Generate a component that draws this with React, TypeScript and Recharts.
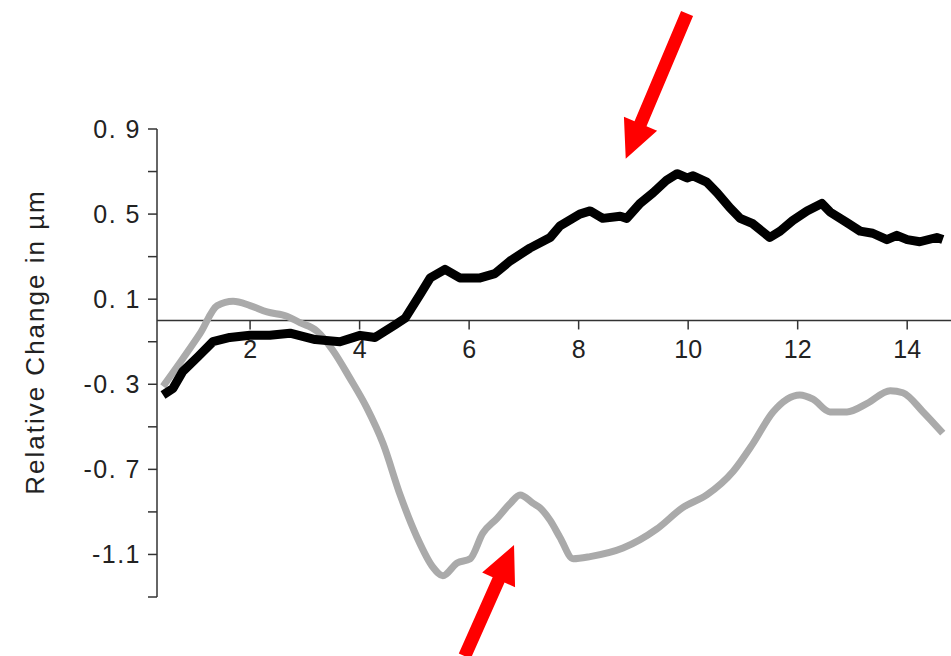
import { ComposedChart, Line, XAxis, YAxis, ReferenceLine, ReferenceDot, Label } from "recharts";

const FONT = "'Liberation Sans', Arial, sans-serif";

const xTicks = [2, 4, 6, 8, 10, 12, 14];
const yTicks = [-1.3, -1.1, -0.9, -0.7, -0.5, -0.3, -0.1, 0.1, 0.3, 0.5, 0.7, 0.9];
const yTickLabels: Record<string, string> = {
  "0.9": "0. 9",
  "0.5": "0. 5",
  "0.1": "0. 1",
  "-0.3": "-0. 3",
  "-0.7": "-0. 7",
  "-1.1": "-1.1",
};

// black trace (x, relative change)
const blackCurve: [number, number][] = [
  [0.41, -0.35], [0.59, -0.32], [0.77, -0.24], [1.05, -0.17], [1.32, -0.1], [1.63, -0.08],
  [2.0, -0.07], [2.36, -0.07], [2.73, -0.06], [3.19, -0.09], [3.64, -0.1], [4.01, -0.07],
  [4.28, -0.08], [4.65, -0.02], [4.83, 0.01], [5.1, 0.12], [5.29, 0.2], [5.56, 0.24],
  [5.83, 0.2], [6.2, 0.2], [6.47, 0.22], [6.75, 0.28], [7.11, 0.34], [7.48, 0.39],
  [7.66, 0.445], [8.02, 0.5], [8.21, 0.515], [8.44, 0.48], [8.76, 0.49], [8.88, 0.48],
  [9.12, 0.55], [9.36, 0.6], [9.61, 0.66], [9.8, 0.69], [9.98, 0.67], [10.09, 0.68],
  [10.34, 0.65], [10.53, 0.6], [10.76, 0.53], [10.95, 0.48], [11.18, 0.455], [11.49, 0.39],
  [11.68, 0.42], [11.91, 0.47], [12.17, 0.515], [12.44, 0.55], [12.59, 0.51], [12.9, 0.46],
  [13.14, 0.42], [13.37, 0.41], [13.63, 0.38], [13.81, 0.4], [14.0, 0.38], [14.23, 0.37],
  [14.54, 0.39], [14.65, 0.38],
];

// gray trace
const grayCurve: [number, number][] = [
  [0.41, -0.31], [0.77, -0.18], [1.09, -0.06], [1.4, 0.07], [1.69, 0.09], [2.0, 0.07],
  [2.31, 0.04], [2.67, 0.02], [2.91, -0.01], [3.22, -0.05], [3.51, -0.14], [3.82, -0.27],
  [4.13, -0.41], [4.43, -0.58], [4.74, -0.82], [5.05, -1.02], [5.34, -1.16], [5.52, -1.2],
  [5.78, -1.14], [6.02, -1.12], [6.25, -1.0], [6.51, -0.93], [6.75, -0.86], [6.93, -0.82],
  [7.17, -0.86], [7.29, -0.88], [7.48, -0.94], [7.66, -1.02], [7.9, -1.12], [8.21, -1.11],
  [8.81, -1.07], [9.43, -0.98], [9.9, -0.88], [10.34, -0.82], [10.82, -0.71], [11.18, -0.58],
  [11.55, -0.43], [12.04, -0.35], [12.28, -0.37], [12.59, -0.43], [12.9, -0.43], [13.27, -0.39],
  [13.69, -0.33], [13.92, -0.34], [14.29, -0.43], [14.65, -0.53],
];

// red annotation arrows: tail -> tip, in data units
const arrows = [
  { from: [9.98, 1.443], to: [8.86, 0.76] },
  { from: [5.92, -1.578], to: [6.82, -1.056] },
];

const toRows = (pts: [number, number][]) => pts.map(([x, y]) => ({ x, y }));

function ArrowShape(props: any) {
  const { x1, y1, x2, y2 } = props;
  const dx = x2 - x1;
  const dy = y2 - y1;
  const len = Math.hypot(dx, dy) || 1;
  const ux = dx / len, uy = dy / len;
  const nx = -uy, ny = ux;
  const head = 38, half = 18, shaft = 6.5;
  const bx = x2 - ux * head, by = y2 - uy * head;
  const pts = [
    [x1 + nx * shaft, y1 + ny * shaft],
    [bx + nx * shaft, by + ny * shaft],
    [bx + nx * half, by + ny * half],
    [x2, y2],
    [bx - nx * half, by - ny * half],
    [bx - nx * shaft, by - ny * shaft],
    [x1 - nx * shaft, y1 - ny * shaft],
  ];
  return <polygon points={pts.map((p) => p.join(",")).join(" ")} fill="#ff0000" />;
}

function XTickMark(props: any) {
  const { cx, cy, value } = props;
  return (
    <g>
      <line x1={cx} y1={cy} x2={cx} y2={cy + 9} stroke="#333" strokeWidth={1.5} />
      <text x={cx} y={cy + 38} textAnchor="middle" fontSize={25} fontFamily={FONT} fill="#222">
        {value}
      </text>
    </g>
  );
}

export default function App() {
  return (
    <div style={{ position: "absolute", left: 0, top: 0, width: 951, height: 656, background: "#fff" }}>
      <ComposedChart
        width={951}
        height={656}
        margin={{ top: 129, right: 0, bottom: 59, left: 0 }}
        style={{ fontFamily: FONT }}
      >
        <XAxis type="number" dataKey="x" domain={[0.3, 14.8]} allowDataOverflow hide />
        <YAxis
          type="number"
          dataKey="y"
          width={157}
          domain={[-1.3, 0.9]}
          ticks={yTicks}
          interval={0}
          allowDataOverflow
          tickSize={9}
          tickMargin={7}
          tickFormatter={(v: number) => yTickLabels[v.toFixed(1)] ?? ""}
          tick={{ fill: "#222", fontSize: 25, fontFamily: FONT, letterSpacing: 1.5 }}
          axisLine={{ stroke: "#333", strokeWidth: 1.5 }}
          tickLine={{ stroke: "#333", strokeWidth: 1.5 }}
        >
          <Label
            content={({ viewBox }: any) => {
              const cx = viewBox.x + 35;
              const cy = viewBox.y + viewBox.height / 2 - 21;
              return (
                <text
                  x={cx}
                  y={cy}
                  transform={`rotate(-90, ${cx}, ${cy})`}
                  textAnchor="middle"
                  dominantBaseline="central"
                  fontSize={26}
                  letterSpacing={2}
                  fontFamily={FONT}
                  fill="#222"
                >
                  Relative Change in µm
                </text>
              );
            }}
          />
        </YAxis>
        <ReferenceLine y={0} stroke="#333" strokeWidth={1.5} />
        {xTicks.map((t) => (
          <ReferenceDot key={t} x={t} y={0} r={0} shape={(p: any) => <XTickMark {...p} value={t} />} />
        ))}
        <Line
          data={toRows(grayCurve)}
          dataKey="y"
          type="monotone"
          stroke="#aaaaaa"
          strokeWidth={7}
          strokeLinejoin="round"
          dot={false}
          isAnimationActive={false}
        />
        <Line
          data={toRows(blackCurve)}
          dataKey="y"
          type="linear"
          stroke="#000"
          strokeWidth={9}
          strokeLinejoin="round"
          dot={false}
          isAnimationActive={false}
        />
        {arrows.map((a, i) => (
          <ReferenceLine
            key={i}
            segment={[{ x: a.from[0], y: a.from[1] }, { x: a.to[0], y: a.to[1] }]}
            ifOverflow="visible"
            shape={(p: any) => <ArrowShape {...p} />}
          />
        ))}
      </ComposedChart>
    </div>
  );
}
